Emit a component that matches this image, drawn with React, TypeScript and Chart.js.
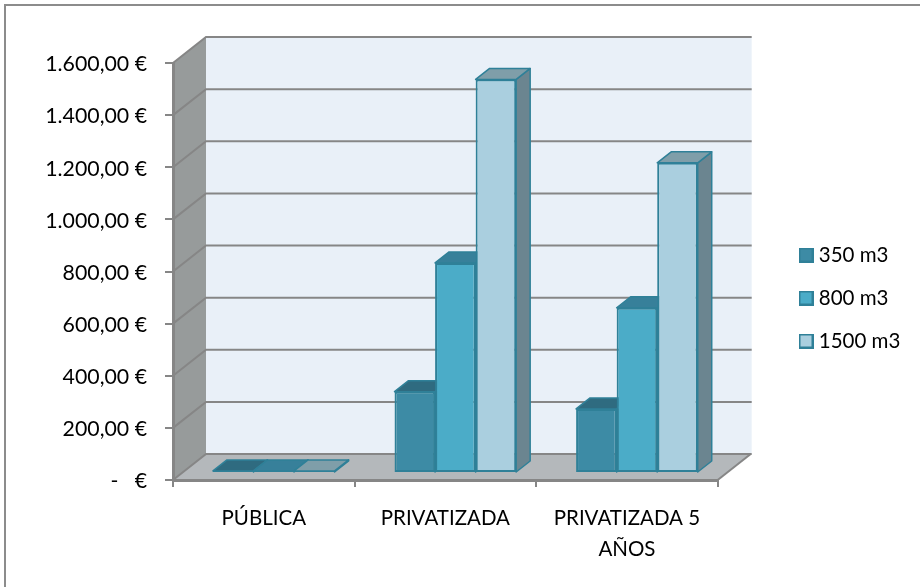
import React, { useEffect, useRef } from "react";
import { Chart, registerables } from "chart.js";

Chart.register(...registerables);

const categories = ["PÚBLICA", "PRIVATIZADA", ["PRIVATIZADA 5", "AÑOS"]];
const seriesNames = ["350 m3", "800 m3", "1500 m3"];
const values350 = [8, 312, 246];
const values800 = [8, 806, 634];
const values1500 = [8, 1510, 1190];
const faceColors = ["#3d8ba5", "#4bacc8", "#aacfdf"];
const topColors = ["#2f6b80", "#37809a", "#7f9ea9"];
const sideColors = ["#2c6476", "#347a90", "#6b8590"];
const edgeColor = "#2f8098";
const axisColor = "#868686";
const FONT = "Lato, Carlito, Calibri, sans-serif";
const FONT_SIZE = 20.5;

const W = 920;
const H = 587;
const WALL_DX = 33;
const WALL_DY = 26;
const BAR_DX = 10;
const BAR_DY = 7;
const DEPTH_DX = 14;
const DEPTH_DY = 11;

function formatEuro(v: number) {
  if (v === 0) return "-   €";
  const whole = Math.floor(v);
  const thousands = whole >= 1000 ? Math.floor(whole / 1000) + "." + String(whole % 1000).padStart(3, "0") : String(whole);
  return thousands + ",00 €";
}

function poly(ctx: CanvasRenderingContext2D, pts: number[][], fill: string, stroke?: string, lw = 1) {
  ctx.beginPath();
  pts.forEach((p, i) => (i ? ctx.lineTo(p[0], p[1]) : ctx.moveTo(p[0], p[1])));
  ctx.closePath();
  ctx.fillStyle = fill;
  ctx.fill();
  if (stroke) {
    ctx.strokeStyle = stroke;
    ctx.lineWidth = lw;
    ctx.lineJoin = "round";
    ctx.stroke();
  }
}

function swatch(fill: string) {
  const c = document.createElement("canvas");
  c.width = 15;
  c.height = 15;
  const g = c.getContext("2d")!;
  g.fillStyle = edgeColor;
  g.fillRect(0, 0, 15, 15);
  g.fillStyle = fill;
  g.fillRect(2, 2, 11, 11);
  return c;
}

const scene3d = {
  id: "scene3d",
  afterLayout(chart: any) {
    const lg = chart.legend;
    const shift = 781 - lg.left;
    lg.left += shift;
    lg.right += shift;
    lg.top = 63;
    lg.bottom = 533;
  },
  beforeDraw(chart: any) {
    const ctx: CanvasRenderingContext2D = chart.ctx;
    const { left, right, top, bottom } = chart.chartArea;
    ctx.save();
    ctx.fillStyle = "#ffffff";
    ctx.fillRect(0, 0, W, H);
    ctx.strokeStyle = "#8c8c8c";
    ctx.lineWidth = 2;
    ctx.beginPath();
    ctx.moveTo(5, H);
    ctx.lineTo(5, 5);
    ctx.lineTo(W, 5);
    ctx.stroke();

    // back wall, side wall and floor
    poly(ctx, [[left + WALL_DX, top - WALL_DY], [right + WALL_DX + 1, top - WALL_DY], [right + WALL_DX + 1, bottom - WALL_DY], [left + WALL_DX, bottom - WALL_DY]], "#e9f0f8");
    poly(ctx, [[left, top], [left + WALL_DX, top - WALL_DY], [left + WALL_DX, bottom - WALL_DY], [left, bottom]], "#979b9b");
    poly(ctx, [[left, bottom], [left + WALL_DX, bottom - WALL_DY], [right + WALL_DX, bottom - WALL_DY], [right, bottom]], "#b4b8bb");

    // gridlines on the walls, taken from the value scale
    const yScale = chart.scales.y;
    ctx.strokeStyle = axisColor;
    ctx.lineWidth = 2;
    yScale.ticks.forEach((t: any) => {
      const y = yScale.getPixelForValue(t.value);
      ctx.beginPath();
      ctx.moveTo(left, y);
      ctx.lineTo(left + WALL_DX, y - WALL_DY);
      ctx.lineTo(right + WALL_DX + 1, y - WALL_DY);
      ctx.stroke();
    });
    ctx.beginPath();
    ctx.moveTo(right, bottom);
    ctx.lineTo(right + WALL_DX, bottom - WALL_DY);
    ctx.stroke();
    ctx.restore();
  },
  beforeDatasetsDraw(chart: any) {
    const ctx: CanvasRenderingContext2D = chart.ctx;
    ctx.save();
    ctx.translate(BAR_DX, -BAR_DY);
    chart.data.labels.forEach((_: any, c: number) => {
      chart.data.datasets.forEach((_d: any, i: number) => {
        const el = chart.getDatasetMeta(i).data[c];
        const x0 = el.x - el.width / 2;
        const x1 = el.x + el.width / 2;
        const y0 = el.y;
        const y1 = el.base;
        poly(ctx, [[x1, y0], [x1 + DEPTH_DX, y0 - DEPTH_DY], [x1 + DEPTH_DX, y1 - DEPTH_DY], [x1, y1]], sideColors[i], edgeColor, 1.5);
        poly(ctx, [[x0, y0], [x0 + DEPTH_DX, y0 - DEPTH_DY], [x1 + DEPTH_DX, y0 - DEPTH_DY], [x1, y0]], topColors[i], edgeColor, 1.5);
      });
    });
  },
  afterDatasetsDraw(chart: any) {
    chart.ctx.restore();
  },
};

export default function App() {
  const ref = useRef<HTMLCanvasElement>(null);
  useEffect(() => {
    document.body.style.margin = "0";
    const series = [values350, values800, values1500];
    const chart = new Chart(ref.current!, {
      type: "bar",
      plugins: [scene3d],
      data: {
        labels: categories as any,
        datasets: seriesNames.map((name, i) => ({
          label: name,
          data: series[i],
          backgroundColor: faceColors[i],
          borderColor: edgeColor,
          borderWidth: 2,
          borderSkipped: false,
          categoryPercentage: 0.67,
          barPercentage: 1,
          clip: false as any,
        })),
      },
      options: {
        responsive: false,
        animation: false,
        layout: { padding: { top: 63, left: 0, right: 73, bottom: 0 } },
        plugins: {
          title: { display: false },
          tooltip: { enabled: false },
          legend: {
            display: true,
            position: "right",
            labels: {
              usePointStyle: true,
              boxWidth: 5,
              boxHeight: 14,
              padding: 22.5,
              color: "#000000",
              font: { family: FONT, size: FONT_SIZE },
              generateLabels: (c: any) =>
                Chart.defaults.plugins.legend.labels.generateLabels(c).map((l: any, i: number) => ({
                  ...l,
                  pointStyle: swatch(faceColors[i]),
                })),
            },
          },
        },
        scales: {
          x: {
            afterFit: (s: any) => { s.height = 107; },
            grid: { drawOnChartArea: false, drawTicks: true, tickLength: 7, color: axisColor, lineWidth: 2 },
            border: { color: axisColor, width: 3 },
            ticks: {
              autoSkip: false,
              maxRotation: 0,
              minRotation: 0,
              padding: 16,
              color: "#000000",
              font: { family: FONT, size: FONT_SIZE, lineHeight: "31px" as any },
            },
          },
          y: {
            min: 0,
            max: 1600,
            afterFit: (s: any) => { s.width = 173; },
            grid: { drawOnChartArea: false, drawTicks: true, tickLength: 8, color: axisColor, lineWidth: 2 },
            border: { color: axisColor, width: 3 },
            ticks: {
              stepSize: 200,
              padding: 18,
              labelOffset: 1.5,
              color: "#000000",
              font: { family: FONT, size: 21.3 },
              callback: (v: any) => formatEuro(Number(v)),
            },
          },
        },
      },
    });
    return () => chart.destroy();
  }, []);
  return (
    <div style={{ position: "fixed", left: 0, top: 0, width: W, height: H }}>
      <canvas ref={ref} width={W} height={H} style={{ display: "block" }} />
    </div>
  );
}
